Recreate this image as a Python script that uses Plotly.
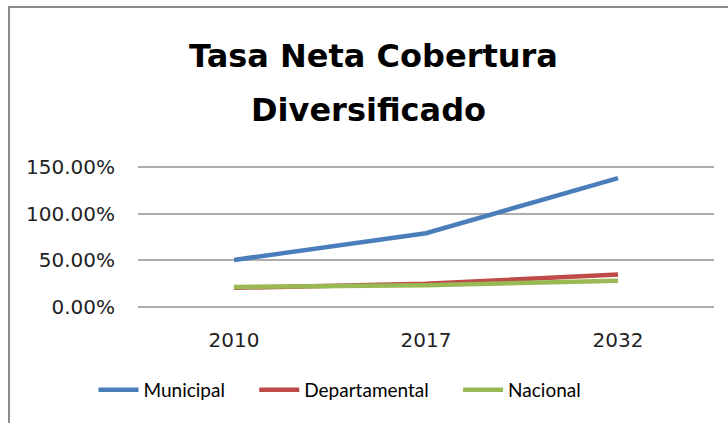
import plotly.graph_objects as go

years = ["2010", "2017", "2032"]
municipal = [0.505, 0.79, 1.38]
departamental = [0.207, 0.25, 0.35]
nacional = [0.217, 0.235, 0.282]

pad = "\u00a0" * 5
series = [("Municipal" + pad, municipal, "#4a7ebb"),
          ("Departamental" + pad, departamental, "#be4b48"),
          ("Nacional", nacional, "#98b954")]

W, H = 728, 423
L, R, T, B = 138, 14, 164, 113
pw = W - L - R
ph = H - T - B

fig = go.Figure()
for name, vals, col in series:
    fig.add_trace(go.Scatter(x=years, y=vals, name=name, mode="lines",
                             line=dict(color=col, width=4.5)))

# outer chart border (left + top visible)
fig.add_shape(type="rect", xref="paper", yref="paper",
              x0=(9 - L) / pw, x1=(740 - L) / pw,
              y0=(H - T - 430) / ph, y1=1 + (T - 7) / ph,
              line=dict(color="#8c8c8c", width=2), layer="below")

title_font = dict(family="DejaVu Sans", size=32, color="black", weight="bold")
fig.add_annotation(text="Tasa Neta Cobertura", xref="paper", yref="paper",
                   x=(373 - L) / pw, y=1 + (T - 56) / ph,
                   xanchor="center", yanchor="middle", showarrow=False,
                   font=title_font)
fig.add_annotation(text="Diversificado", xref="paper", yref="paper",
                   x=(368 - L) / pw, y=1 + (T - 110) / ph,
                   xanchor="center", yanchor="middle", showarrow=False,
                   font=title_font)

fig.update_layout(
    width=W, height=H,
    margin=dict(l=L, r=R, t=T, b=B, autoexpand=False),
    paper_bgcolor="white", plot_bgcolor="white",
    showlegend=True,
    legend=dict(orientation="h", x=(340 - L) / pw, xanchor="center",
                y=(H - B - 390) / ph, yanchor="middle",
                font=dict(family="Lato", size=19, color="black"),
                itemwidth=40, tracegroupgap=0),
    xaxis=dict(range=[-0.5, 2.5], automargin=False, ticklabelstandoff=16,
               showgrid=False, zeroline=False, showline=False, ticks="",
               tickfont=dict(family="DejaVu Sans", size=20, color="#222")),
    yaxis=dict(range=[-0.03, 1.53], tickvals=[0, 0.5, 1.0, 1.5], tickformat=".2%",
               automargin=False, ticklabelstandoff=22,
               showgrid=True, gridcolor="#adadad", gridwidth=1.5,
               zeroline=False, showline=False, ticks="",
               tickfont=dict(family="DejaVu Sans", size=20, color="#222")),
)

fig.write_html("out.html", config={"displayModeBar": False},
               post_script="document.body.style.margin='0';")
